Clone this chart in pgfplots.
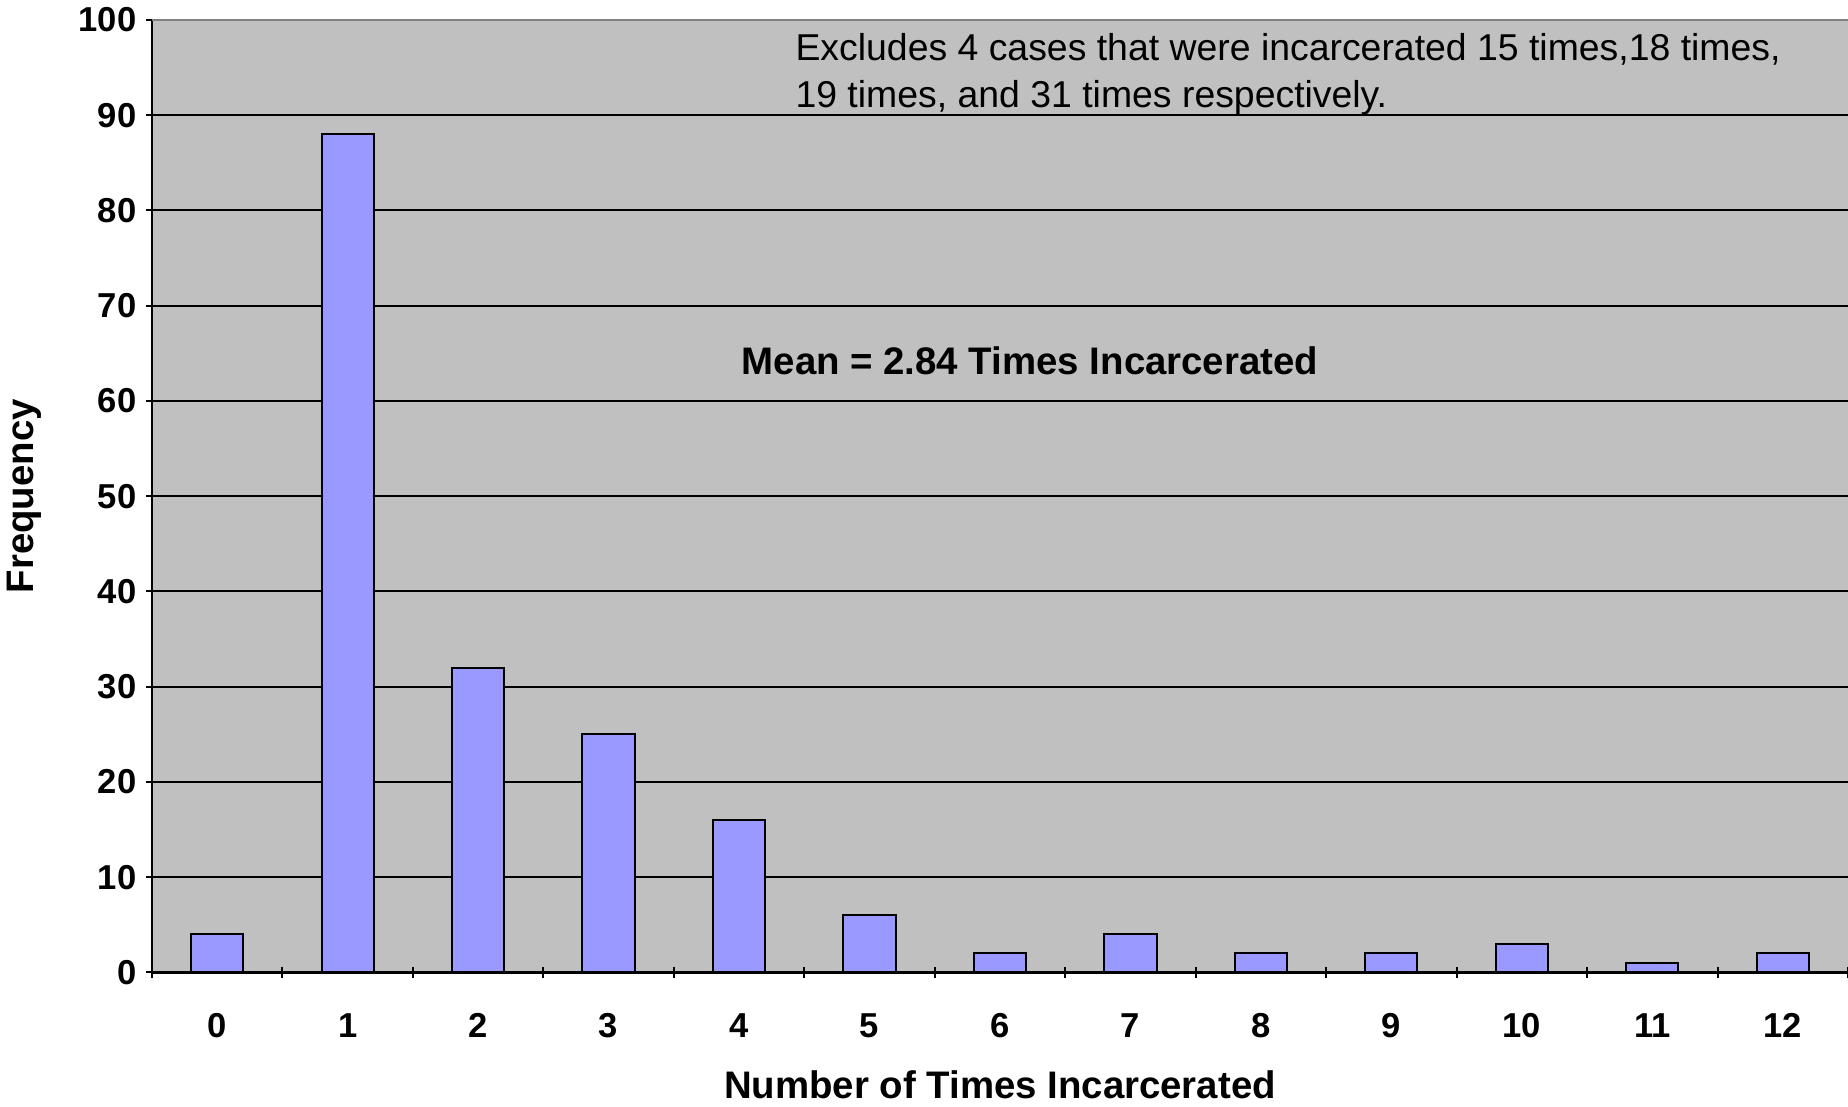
\documentclass[border=0pt]{standalone}
\usepackage{pgfplots}
\pgfplotsset{compat=1.18}
\usepackage{fontspec}
\setmainfont{Liberation Sans}

\definecolor{plotbg}{HTML}{C0C0C0}
\definecolor{barfill}{HTML}{9999FF}
\definecolor{topline}{HTML}{808080}

\begin{document}
\begin{tikzpicture}
  % 1 px of the reference = 0.5pt
  \useasboundingbox (-76pt,-67pt) rectangle (848.25pt,486.3pt);
  \begin{axis}[
      at={(0,0)}, anchor=south west,
      scale only axis,
      width=848.25pt, height=476.3pt,
      ybar, bar width=0.4,
      xmin=-0.5, xmax=12.5,
      ymin=0, ymax=100,
      xtick={0,...,12},
      minor xtick={-0.5,0.5,...,12.5},
      ytick={0,10,...,100},
      major x tick style={draw=none},
      tick align=outside,
      major tick length=5.5pt,
      minor tick length=5.5pt,
      tick style={black, line width=1pt},
      axis lines=left,
      axis line style={-, black, line width=1.2pt},
      axis background/.style={fill=plotbg},
      ymajorgrids,
      grid style={black, line width=1pt},
      /pgf/number format/assume math mode=true,
      tick label style={font=\fontsize{17.3}{20}\selectfont\bfseries},
      yticklabel style={xshift=-1.5pt},
      xticklabel style={anchor=center, yshift=-24pt},
      every axis x label/.style={at={(axis description cs:0.5,0)}, yshift=-56pt, anchor=center},
      every axis y label/.style={at={(axis description cs:0,0.5)}, xshift=-64pt, rotate=90, anchor=center},
      label style={font=\fontsize{19.2}{22}\selectfont\bfseries},
      xlabel={Number of Times Incarcerated},
      ylabel={Frequency},
      clip=false,
    ]
    \addplot[fill=barfill, draw=black, line width=1pt]
      coordinates {(0,4) (1,88) (2,32) (3,25) (4,16) (5,6) (6,2) (7,4) (8,2) (9,2) (10,3) (11,1) (12,2)};
    \draw[topline, line width=1.2pt] (rel axis cs:0,1) -- (rel axis cs:1,1);
    \node[anchor=base west, inner sep=0pt, font=\fontsize{18.7}{22}\selectfont]
      at (axis cs:4.43,95.77) {Excludes 4 cases that were incarcerated 15 times,18 times,};
    \node[anchor=base west, inner sep=0pt, font=\fontsize{18.7}{22}\selectfont]
      at (axis cs:4.43,90.83) {19 times, and 31 times respectively.};
    \node[anchor=base, inner sep=0pt, font=\fontsize{19.2}{22}\selectfont\bfseries]
      at (axis cs:6.23,62.75) {Mean = 2.84 Times Incarcerated};
  \end{axis}
\end{tikzpicture}
\end{document}
